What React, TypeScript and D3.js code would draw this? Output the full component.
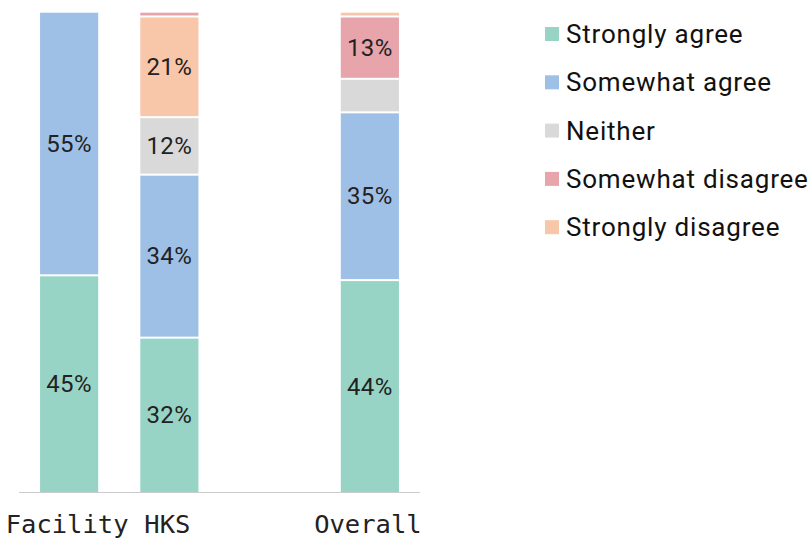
import React from "react";
import * as d3 from "d3";

const categories = ["Facility", "HKS", "", "Overall"];
const seriesKeys = ["Strongly agree", "Somewhat agree", "Neither", "Somewhat disagree", "Strongly disagree"];
const stronglyAgree = [45, 32, 0, 44];
const somewhatAgree = [55, 34, 0, 35];
const neither = [0, 12, 0, 7];
const somewhatDisagree = [0, 1, 0, 13];
const stronglyDisagree = [0, 21, 0, 1];
// stacking order (bottom to top) of series indices for each bar
const stackOrders = [
  [0, 1, 2, 3, 4],
  [0, 1, 2, 4, 3],
  [0, 1, 2, 3, 4],
  [0, 1, 2, 3, 4],
];
const colors = ["#97d4c6", "#9fc0e6", "#d9d9d9", "#e8a4ab", "#f8c6a8"];

const W = 810;
const H = 541;

export default function App() {
  const seriesValues = [stronglyAgree, somewhatAgree, neither, somewhatDisagree, stronglyDisagree];

  const x = d3.scaleBand<string>().domain(categories).range([19, 420]).paddingInner(0.42).paddingOuter(0.21);
  const y = d3.scaleLinear().domain([0, 100]).range([492, 12.7]);

  const segments: { ci: number; si: number; y0: number; y1: number }[] = [];
  categories.forEach((c, ci) => {
    if (!c) return;
    const order = stackOrders[ci];
    const vals = order.map((si) => seriesValues[si][ci]);
    const cums = d3.cumsum(vals);
    order.forEach((si, k) => {
      const v = vals[k];
      if (v > 0) segments.push({ ci, si, y0: cums[k] - v, y1: cums[k] });
    });
  });

  return (
    <svg width={W} height={H} style={{ position: "absolute", left: 0, top: 0, background: "#fff" }}>
      <line x1={19} x2={420} y1={492.5} y2={492.5} stroke="#cccccc" strokeWidth={1} />
      {segments.map((s, i) => {
        const v = s.y1 - s.y0;
        const top = y(s.y1);
        const bot = y(s.y0);
        const gap = s.y0 > 0 ? 2 : 0;
        const x0 = x(categories[s.ci])!;
        return (
          <g key={i}>
            <rect x={x0} y={top} width={x.bandwidth()} height={Math.max(0, bot - top - gap)} fill={colors[s.si]} />
            {v >= 10 && (
              <text
                x={x0 + x.bandwidth() / 2}
                y={(top + bot - gap) / 2}
                textAnchor="middle"
                dominantBaseline="central"
                fontFamily="Roboto, sans-serif"
                fontSize={24}
                letterSpacing={0.4}
                fill="#222"
              >
                {`${v}%`}
              </text>
            )}
          </g>
        );
      })}
      {categories.map((c) =>
        c ? (
          <text
            key={c}
            x={x(c)! + x.bandwidth() / 2 - 2}
            y={533}
            textAnchor="middle"
            fontFamily="'DejaVu Sans Mono', monospace"
            fontSize={25.5}
            fill="#222"
          >
            {c}
          </text>
        ) : null
      )}
      {seriesKeys.map((k, i) => {
        const cy = 34 + i * 48.3;
        return (
          <g key={k}>
            <rect x={545} y={cy - 7} width={14} height={14} fill={colors[i]} />
            <text
              x={566}
              y={cy}
              dominantBaseline="central"
              fontFamily="Roboto, sans-serif"
              fontSize={26}
              letterSpacing={0.8}
              fill="#111"
            >
              {k}
            </text>
          </g>
        );
      })}
    </svg>
  );
}
